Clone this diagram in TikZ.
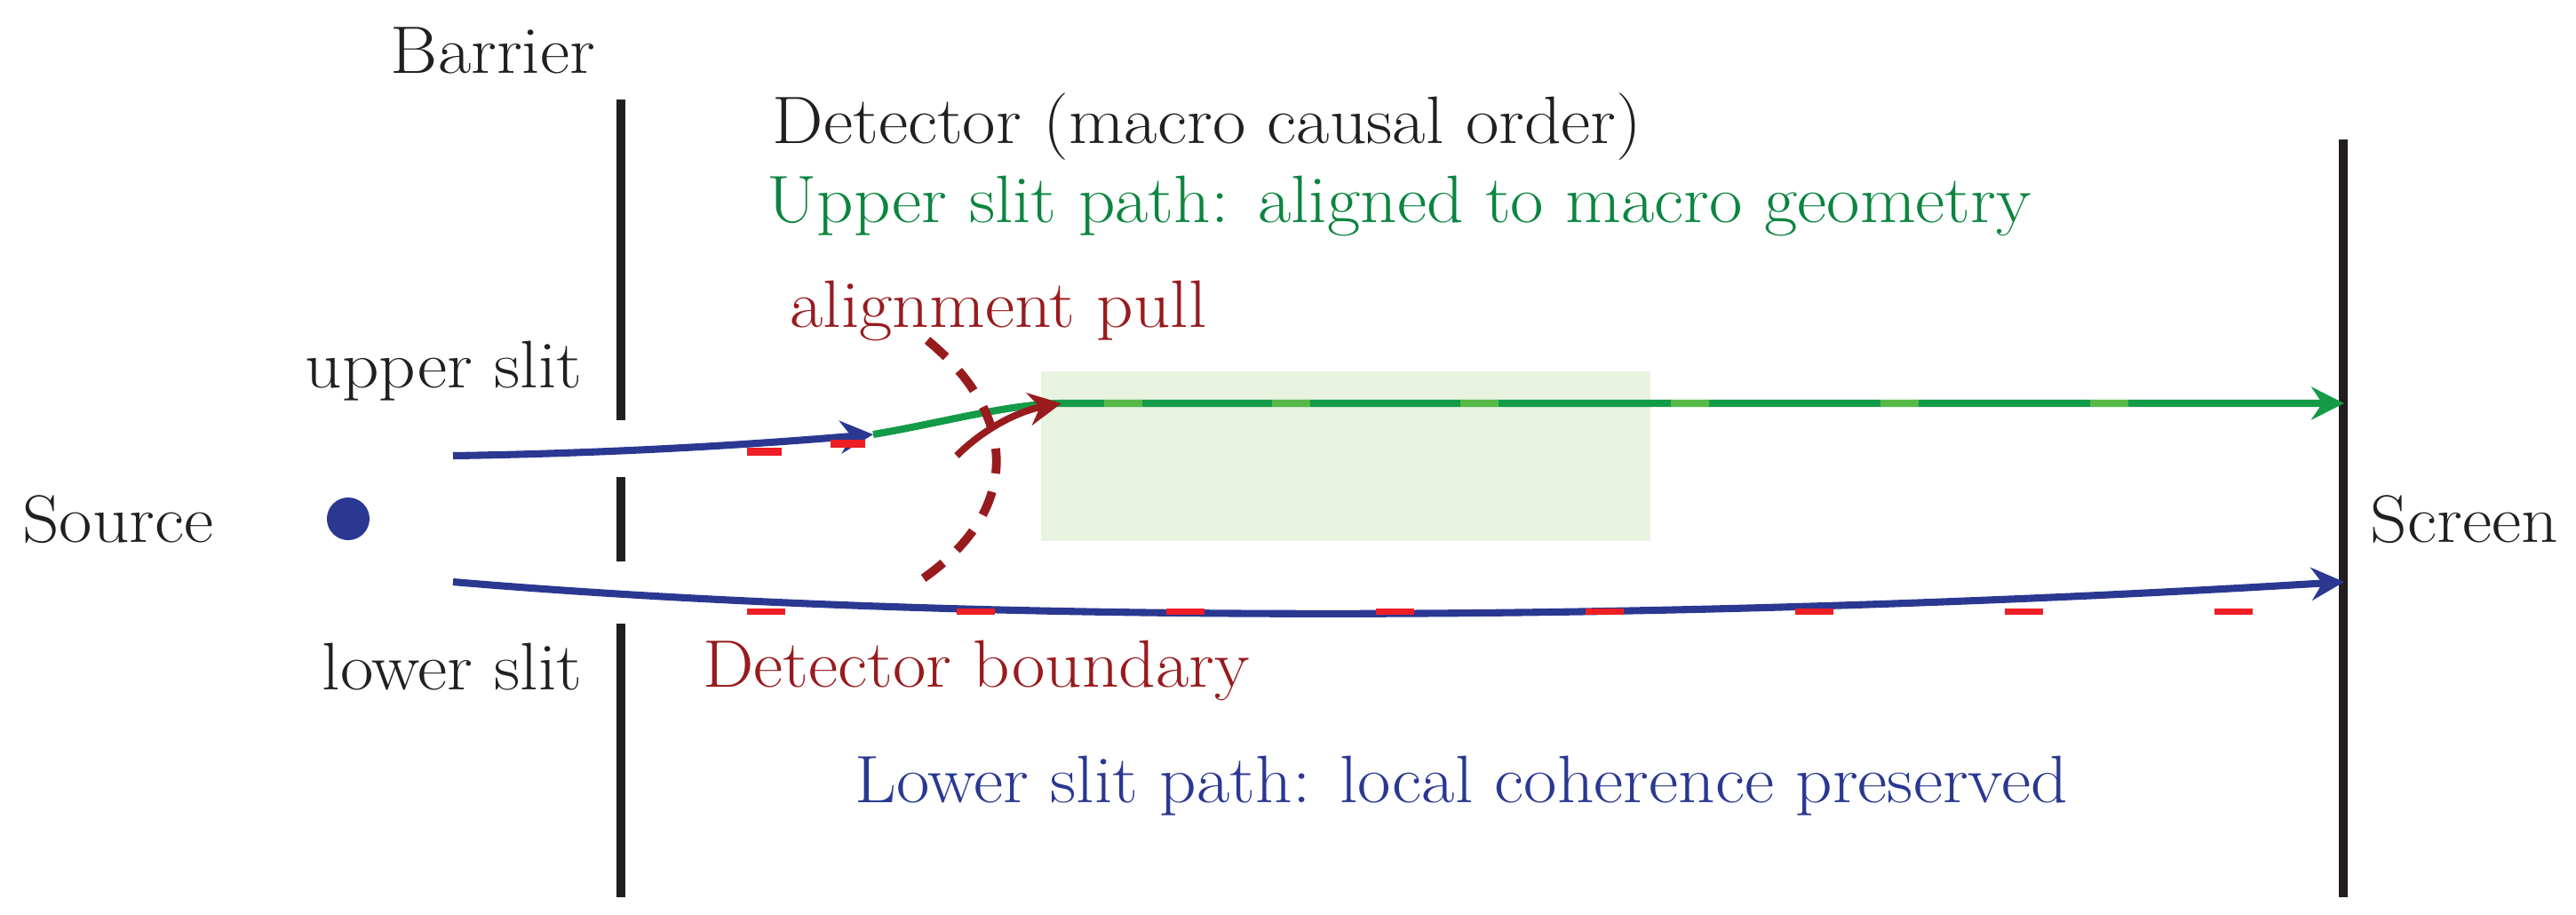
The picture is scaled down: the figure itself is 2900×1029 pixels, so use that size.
\documentclass[tikz,border=0pt]{standalone}
\usepackage{fontspec}
\setmainfont{Latin Modern Roman}[FakeStretch=1.075]
\usetikzlibrary{arrows.meta}
\definecolor{pblue}{RGB}{42,56,146}
\definecolor{pgreen}{RGB}{19,155,72}
\definecolor{lgreen}{RGB}{86,185,71}
\definecolor{tgreen}{RGB}{12,133,64}
\definecolor{mred}{RGB}{238,30,36}
\definecolor{dred}{RGB}{152,27,30}
\definecolor{rectg}{RGB}{232,243,224}
\definecolor{ink}{RGB}{35,31,32}
\begin{document}
\begin{tikzpicture}[x=0.01cm,y=-0.01cm,
  font=\fontsize{21.5}{26}\selectfont,
  lbl/.style={inner sep=0pt, anchor=base, text=ink},
  tipa/.style={-{Stealth[length=10.5pt,width=10.5pt,inset=3.5pt]}},
  wall/.style={line width=2.7pt, draw=ink},
  bluepath/.style={draw=pblue, line width=2.3pt},
  greenpath/.style={draw=pgreen, line width=2.3pt},
  lightseg/.style={draw=lgreen, line width=2.3pt},
  reddash/.style={draw=mred, line width=2.3pt},
  pullarc/.style={draw=dred, line width=2.8pt, dash pattern=on 8pt off 6pt},
  pullarrow/.style={draw=dred, line width=2.2pt}]
\useasboundingbox (0,0) rectangle (2900,1029);

% detector region
\path[fill=rectg] (1172,418) rectangle (1858,609);

% barrier and screen
\coordinate (b1t) at (699,112); \coordinate (b1b) at (699,473);
\coordinate (b2t) at (699,537); \coordinate (b2b) at (699,632);
\coordinate (b3t) at (699,702); \coordinate (b3b) at (699,1010);
\coordinate (scrt) at (2638,157); \coordinate (scrb) at (2638,1010);
\draw[wall] (b1t) -- (b1b);
\draw[wall] (b2t) -- (b2b);
\draw[wall] (b3t) -- (b3b);
\draw[wall, line width=2.9pt] (scrt) -- (scrb);

% labels
\node[lbl] (barrierlbl) at (555,82) {Barrier};
\node[lbl] (detlbl) at (1359,161) {Detector (macro causal order)};
\node[lbl, text=tgreen] (upperpathlbl) at (1575,250) {Upper slit path: aligned to macro geometry};
\node[lbl, text=dred] (pulllbl) at (1124,368) {alignment pull};
\node[lbl, anchor=base east] (upperslit) at (656,436) {upper slit};
\node[lbl, anchor=base east] (lowerslit) at (656,776) {lower slit};
\node[lbl] (sourcelbl) at (133,610) {Source};
\node[lbl, anchor=base west] (screenlbl) at (2668,610) {Screen};
\node[lbl, text=dred] (boundlbl) at (1099,773) {Detector boundary};
\node[lbl, text=pblue] (lowerpathlbl) at (1645,903) {Lower slit path: local coherence preserved};

% source
\node[circle, fill=pblue, inner sep=0pt, minimum size=0.48cm] (src) at (392,584) {};

% path coordinates
\coordinate (us) at (510,513);
\coordinate (um) at (983,489);
\coordinate (uj) at (1192,454);
\coordinate (ue) at (2639,454);
\coordinate (ls) at (510,655);
\coordinate (le) at (2639,655);

% upper path (green part)
\draw[greenpath, tipa] (um) .. controls (1060,476) and (1130,456) .. (uj) -- (ue);
\foreach \x in {1243,1432,1644,1881,2117,2353}
  \draw[lightseg] (\x,454) -- (\x+43,454);

% upper path (blue part)
\draw[bluepath, tipa] (us) .. controls (700,510) and (850,500) .. (um);

% lower path
\draw[bluepath, tipa] (ls) .. controls (1100,705) and (1900,700) .. (le);

% red marks
\draw[reddash, line width=2.5pt] (841,508.5) -- (880,508.5);
\draw[reddash, line width=2.5pt] (935,499.5) -- (974,499.5);
\foreach \x in {841,1077,1313,1549,1785,2021,2257,2493}
  \draw[reddash, line width=2pt] (\x,688.5) -- (\x+43,688.5);

% alignment pull
\coordinate (pa) at (1044,383);
\coordinate (pb) at (1029,658);
\draw[pullarc] (pa) .. controls (1150,470) and (1150,580) .. (pb);
\coordinate (ps) at (1077,513);
\coordinate (pe) at (1195,454);
\draw[pullarrow, tipa] (ps) .. controls (1110,480) and (1150,462) .. (pe);
\end{tikzpicture}
\end{document}
